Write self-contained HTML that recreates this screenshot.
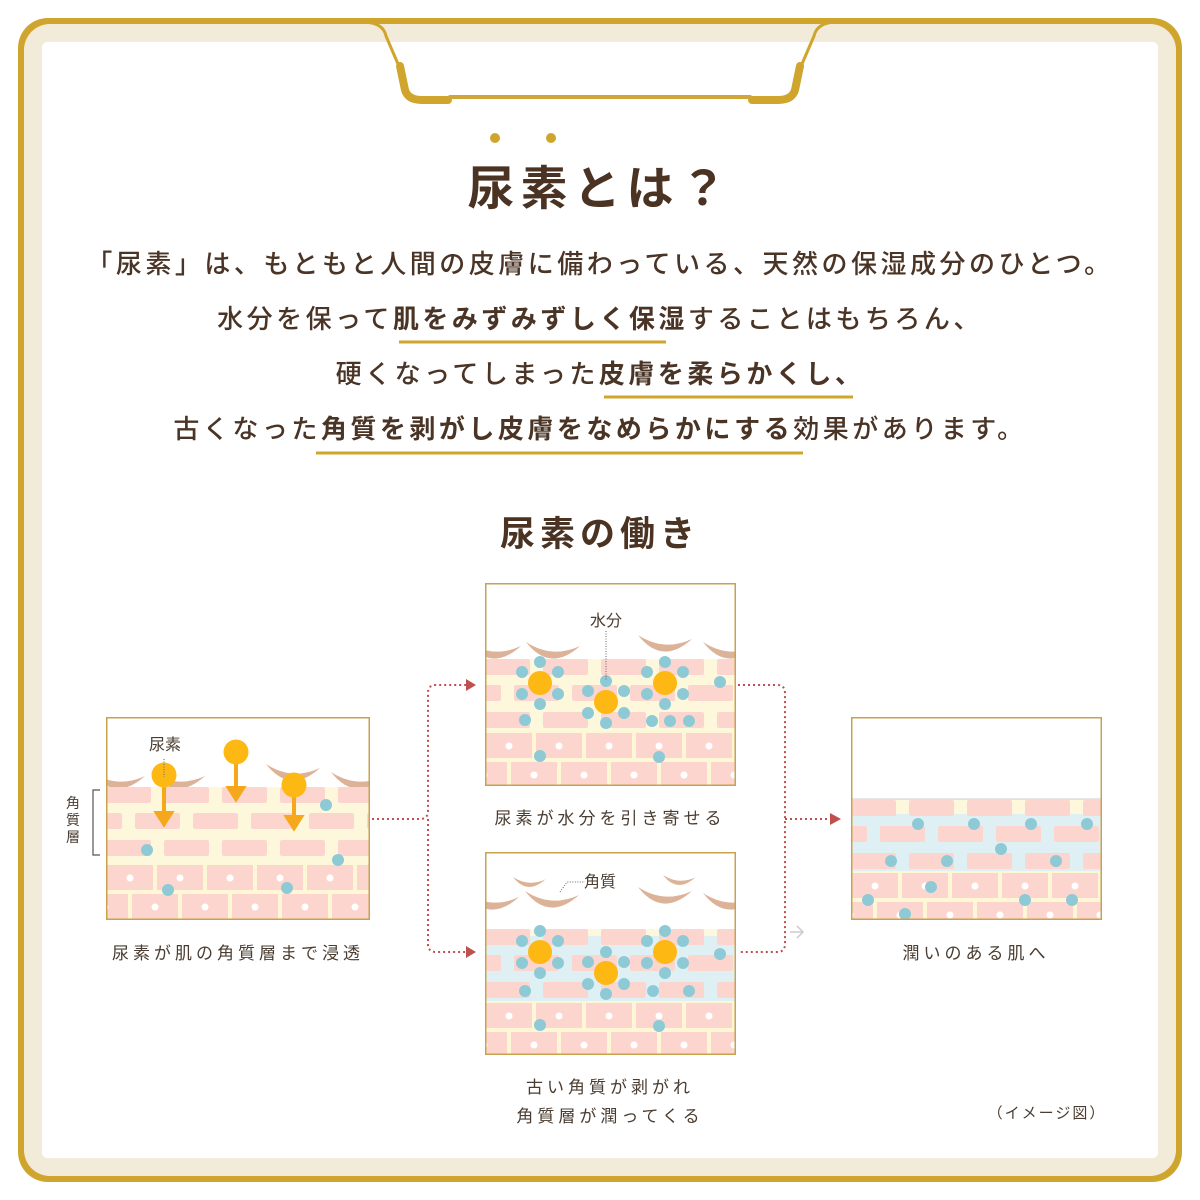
<!DOCTYPE html>
<html><head><meta charset="utf-8"><style>
body{margin:0;width:1200px;height:1200px;background:#fff;overflow:hidden;position:relative;font-family:"Liberation Sans","Noto Sans CJK JP",sans-serif;color:#4a3426}
.t{position:absolute;left:0;width:1200px;text-align:center;white-space:nowrap}
.l{font-size:26px;letter-spacing:3.5px;font-weight:500}
.l b{font-weight:700}
.s{position:absolute;font-size:17px;letter-spacing:4px;white-space:nowrap;color:#4a3c30;transform:translateX(-50%)}
</style></head><body>
<svg width="1200" height="1200" style="position:absolute;left:0;top:0">
<defs>
<pattern id="br" patternUnits="userSpaceOnUse" width="116" height="53">
<g fill="#fdd5cf"><rect x="0" y="0" width="45" height="16" rx="2"/><rect x="58" y="0" width="45" height="16" rx="2"/><rect x="-29" y="26" width="45" height="16" rx="2"/><rect x="29" y="26" width="45" height="16" rx="2"/><rect x="87" y="26" width="45" height="16" rx="2"/></g>
</pattern>
<pattern id="ce" patternUnits="userSpaceOnUse" width="100" height="58">
<rect width="100" height="58" fill="#fdf7d6"/>
<g fill="#fdd5cf"><rect x="1" y="2" width="46" height="25"/><rect x="51" y="2" width="46" height="25"/><rect x="-24" y="31" width="46" height="25"/><rect x="26" y="31" width="46" height="25"/><rect x="76" y="31" width="46" height="25"/></g>
<g fill="#fff"><circle cx="24" cy="15" r="3.5"/><circle cx="74" cy="15" r="3.5"/><circle cx="49" cy="44" r="3.5"/><circle cx="99" cy="44" r="3.5"/><circle cx="-1" cy="44" r="3.5"/></g>
</pattern>
<path id="cr" d="M0 -5 Q24 26 54 -1 Q26 12 0 -5Z" fill="#dcb398"/>
<g id="ring" fill="#8ecad6"><circle cx="0" cy="-21" r="6"/><circle cx="18" cy="-11" r="6"/><circle cx="18" cy="11" r="6"/><circle cx="0" cy="21" r="6"/><circle cx="-18" cy="11" r="6"/><circle cx="-18" cy="-11" r="6"/><circle r="12" fill="#fdb813"/></g>
</defs>
<rect x="18" y="18" width="1164" height="1164" rx="30" fill="#d0a52d"/>
<rect x="24" y="24" width="1152" height="1152" rx="26" fill="#f2ebda"/>
<rect x="42" y="42" width="1116" height="1116" rx="5" fill="#fff"/>
<g fill="none" stroke="#d0a52d" stroke-linecap="round">
<path d="M362 22 Q383 22 386 36 L398 64" stroke-width="3"/>
<path d="M400 66 L405 90 Q408 100 422 100 L448 100" stroke-width="8"/>
<path d="M838 22 Q817 22 814 36 L802 64" stroke-width="3"/>
<path d="M800 66 L795 90 Q792 100 778 100 L752 100" stroke-width="8"/>
<line x1="450" y1="97" x2="750" y2="97" stroke-width="4" stroke="#cfa63a"/>
</g>
<circle cx="495" cy="138" r="5" fill="#d0a52d"/><circle cx="551" cy="138" r="5" fill="#d0a52d"/>
<g stroke="#d0a52d" stroke-width="3"><line x1="399" y1="342" x2="666" y2="342"/><line x1="604" y1="397" x2="853" y2="397"/><line x1="316" y1="453" x2="803" y2="453"/></g>

<g fill="none" stroke="#c0504d" stroke-width="2" stroke-dasharray="2 3">
<path d="M372 819 L420 819 Q428 819 428 811 L428 693 Q428 685 436 685 L466 685"/>
<path d="M428 819 L428 944 Q428 952 436 952 L466 952"/>
<path d="M738 685 L777 685 Q785 685 785 693 L785 944 Q785 952 777 952 L738 952"/>
<path d="M785 819 L830 819"/>
</g>
<g fill="#c0504d"><path d="M466 679 L476 685 L466 691Z"/><path d="M466 946 L476 952 L466 958Z"/><path d="M830 813 L841 819 L830 825Z"/></g>
<path d="M790 932 L803 932 M797 926 L803 932 L797 938" stroke="#ccc" stroke-width="1.5" fill="none"/>
<path d="M100 790 L93 790 L93 855 L100 855" stroke="#555" stroke-width="1.2" fill="none"/>

<svg x="106" y="717" width="264" height="203">
<rect width="264" height="203" fill="#fff"/>
<use href="#cr" x="-15" y="60"/><use href="#cr" x="45" y="60"/><use href="#cr" x="160" y="52"/><use href="#cr" x="225" y="60"/>
<rect y="70" width="264" height="77" fill="#fdf8dc"/>
<g transform="translate(0,70)"><rect width="264" height="70" fill="url(#br)"/></g>
<g transform="translate(0,146)"><rect width="264" height="60" fill="url(#ce)"/></g>
<g fill="#8ecad6"><circle cx="220" cy="88" r="6"/><circle cx="41" cy="133" r="6"/><circle cx="232" cy="143" r="6"/><circle cx="62" cy="173" r="6"/><circle cx="181" cy="171" r="6"/></g>
<g fill="#f5a81c" stroke="#f5a81c" stroke-width="4"><line x1="58" y1="58" x2="58" y2="100"/><path d="M51 96 L58 107 L65 96Z"/><line x1="130" y1="35" x2="130" y2="75"/><path d="M123 71 L130 82 L137 71Z"/><line x1="188" y1="68" x2="188" y2="104"/><path d="M181 100 L188 111 L195 100Z"/></g>
<g fill="#fdb813"><circle cx="58" cy="58" r="12.5"/><circle cx="130" cy="35" r="12.5"/><circle cx="188" cy="68" r="12.5"/></g>
<line x1="58" y1="42" x2="58" y2="60" stroke="#666" stroke-width="1" stroke-dasharray="1 1.5"/>
<rect x="0.5" y="0.5" width="263" height="202" fill="none" stroke="#c9a24e" stroke-width="2"/>
</svg>

<svg x="485" y="583" width="251" height="203">
<rect width="251" height="203" fill="#fff"/>
<use href="#cr" x="-18" y="64"/><use href="#cr" x="41" y="64"/><use href="#cr" x="153" y="57"/><use href="#cr" x="218" y="64"/>
<rect y="76" width="251" height="72" fill="#fdf8dc"/>
<g transform="translate(0,76)"><rect width="251" height="70" fill="url(#br)"/></g>
<g transform="translate(0,148)"><rect width="251" height="60" fill="url(#ce)"/></g>
<use href="#ring" x="55" y="100"/><use href="#ring" x="121" y="119"/><use href="#ring" x="180" y="100"/>
<g fill="#8ecad6"><circle cx="235" cy="99" r="6"/><circle cx="40" cy="137" r="6"/><circle cx="167" cy="138" r="6"/><circle cx="185" cy="138" r="6"/><circle cx="204" cy="138" r="6"/><circle cx="55" cy="173" r="6"/><circle cx="174" cy="174" r="6"/></g>
<line x1="121" y1="48" x2="121" y2="98" stroke="#666" stroke-width="1" stroke-dasharray="1 1.5"/>
<rect x="0.5" y="0.5" width="250" height="202" fill="none" stroke="#c9a24e" stroke-width="2"/>
</svg>

<svg x="485" y="852" width="251" height="203">
<rect width="251" height="203" fill="#fff"/>
<use href="#cr" transform="translate(28,28) scale(0.6)"/><use href="#cr" x="-20" y="46"/><use href="#cr" x="40" y="44"/><use href="#cr" transform="translate(178,26) scale(0.6)"/><use href="#cr" x="153" y="40"/><use href="#cr" x="218" y="46"/>
<path d="M75 40 L82 30 L100 30" stroke="#666" stroke-width="1" stroke-dasharray="1 1.5" fill="none"/>
<rect y="77" width="251" height="72" fill="#fdf8dc"/>
<rect y="84" width="251" height="65" fill="#dff0f4"/>
<g transform="translate(0,77)"><rect width="251" height="70" fill="url(#br)"/></g>
<g transform="translate(0,149)"><rect width="251" height="60" fill="url(#ce)"/></g>
<use href="#ring" x="55" y="100"/><use href="#ring" x="121" y="121"/><use href="#ring" x="180" y="100"/>
<g fill="#8ecad6"><circle cx="235" cy="102" r="6"/><circle cx="40" cy="139" r="6"/><circle cx="168" cy="139" r="6"/><circle cx="204" cy="139" r="6"/><circle cx="55" cy="173" r="6"/><circle cx="174" cy="174" r="6"/></g>
<rect x="0.5" y="0.5" width="250" height="202" fill="none" stroke="#c9a24e" stroke-width="2"/>
</svg>

<svg x="851" y="717" width="251" height="203">
<rect width="251" height="203" fill="#fff"/>
<rect y="82" width="251" height="72" fill="#fdf8dc"/>
<rect y="97" width="251" height="57" fill="#dff0f4"/>
<line x1="0" y1="82" x2="251" y2="82" stroke="#ccc" stroke-width="1"/>
<g transform="translate(0,83)"><rect width="251" height="70" fill="url(#br)"/></g>
<g transform="translate(0,154)"><rect width="251" height="60" fill="url(#ce)"/></g>
<g fill="#8ecad6"><circle cx="67" cy="107" r="6"/><circle cx="123" cy="107" r="6"/><circle cx="180" cy="107" r="6"/><circle cx="236" cy="107" r="6"/><circle cx="150" cy="132" r="6"/><circle cx="40" cy="144" r="6"/><circle cx="96" cy="144" r="6"/><circle cx="205" cy="144" r="6"/><circle cx="80" cy="170" r="6"/><circle cx="17" cy="183" r="6"/><circle cx="174" cy="183" r="6"/><circle cx="221" cy="183" r="6"/><circle cx="54" cy="197" r="6"/></g>
<rect x="0.5" y="0.5" width="250" height="202" fill="none" stroke="#c9a24e" stroke-width="2"/>
</svg>
</svg>

<div class="t" style="top:150px;font-size:47px;font-weight:700;letter-spacing:6px;color:#4a3322">尿素とは？</div>
<div class="t l" style="top:244px">「尿素」は、もともと人間の皮膚に備わっている、天然の保湿成分のひとつ。</div>
<div class="t l" style="top:299px">水分を保って<b>肌をみずみずしく保湿</b>することはもちろん、</div>
<div class="t l" style="top:354px">硬くなってしまった<b>皮膚を柔らかくし、</b></div>
<div class="t l" style="top:409px">古くなった<b>角質を剥がし皮膚をなめらかにする</b>効果があります。</div>
<div class="t" style="top:506px;font-size:35px;font-weight:700;letter-spacing:5px;color:#4a3322">尿素の働き</div>

<div class="s" style="left:165px;top:731px;font-size:16px;letter-spacing:0">尿素</div>
<div class="s" style="left:606px;top:607px;font-size:16px;letter-spacing:0">水分</div>
<div class="s" style="left:600px;top:868px;font-size:16px;letter-spacing:0">角質</div>
<div style="position:absolute;left:66px;top:795px;width:16px;font-size:14px;line-height:17px;color:#4a3c30">角<br>質<br>層</div>
<div class="s" style="left:238px;top:939px">尿素が肌の角質層まで浸透</div>
<div class="s" style="left:610px;top:804px">尿素が水分を引き寄せる</div>
<div class="s" style="left:610px;top:1073px">古い角質が剥がれ</div>
<div class="s" style="left:610px;top:1102px">角質層が潤ってくる</div>
<div class="s" style="left:976px;top:939px">潤いのある肌へ</div>
<div class="s" style="left:1047px;top:1102px;font-size:15px;letter-spacing:2px">（イメージ図）</div>
</body></html>
